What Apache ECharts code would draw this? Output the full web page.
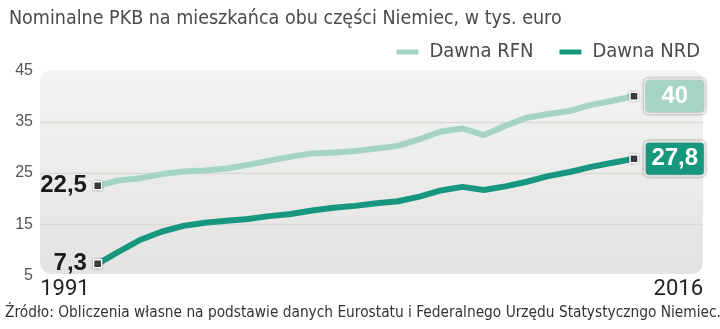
<!DOCTYPE html>
<html>
<head>
<meta charset="utf-8">
<script src="https://cdn.jsdelivr.net/npm/echarts@6/dist/echarts.min.js"></script>
<style>html,body{margin:0;padding:0;background:#fff}#c{width:720px;height:329px}</style>
</head>
<body>
<div id="c"></div>
<script>
const years = ['1991','1992','1993','1994','1995','1996','1997','1998','1999','2000','2001','2002','2003','2004','2005','2006','2007','2008','2009','2010','2011','2012','2013','2014','2015','2016'];
const rfn = [22.5,23.6,24.0,24.8,25.3,25.5,25.9,26.6,27.4,28.2,28.8,29.0,29.3,29.8,30.3,31.6,33.1,33.7,32.4,34.2,35.8,36.5,37.1,38.3,39.1,40.0];
const nrd = [7.3,9.7,12.0,13.6,14.7,15.3,15.7,16.05,16.6,17.0,17.7,18.25,18.6,19.1,19.5,20.4,21.6,22.3,21.7,22.4,23.3,24.4,25.2,26.2,27.0,27.8];
const yTicks = [5,15,25,35,45];
const xTickLabels = ['1991','2016'];
const seriesNames = ['Dawna RFN','Dawna NRD'];
const titleText = 'Nominalne PKB na mieszkańca obu części Niemiec, w tys. euro';
const sourceText = 'Źródło: Obliczenia własne na podstawie danych Eurostatu i Federalnego Urzędu Statystyczngo Niemiec.';

const C_RFN = '#a5d4c4', C_NRD = '#18977f';
const NARROW = "'Liberation Sans Narrow','DejaVu Sans Condensed',sans-serif";
const BOLD = "'Liberation Sans',Arial,sans-serif";
const fmt = v => String(v).replace('.', ',');

function build(vals, color) {
  const last = vals.length - 1;
  return vals.map((v, i) => {
    if (i === 0) return {value: v, label: {show: true, position: 'left', distance: 6, formatter: p => fmt(p.value),
      fontFamily: BOLD, fontWeight: 'bold', fontSize: 24, color: '#1a1a1a'}};
    if (i === last) return {value: v, label: {show: true, position: 'right', distance: 7,
      formatter: p => '{t|' + fmt(p.value) + '}',
      rich: {t: {width: 54, align: 'center', fontFamily: BOLD, fontWeight: 'bold', fontSize: 24, color: '#fff', lineHeight: 26}},
      backgroundColor: color, padding: [3, 2], borderColor: '#fff', borderWidth: 2, borderRadius: 3,
      shadowBlur: 3, shadowColor: 'rgba(0,0,0,0.45)'}};
    return v;
  });
}

const chart = echarts.init(document.getElementById('c'), null, {renderer: 'canvas'});
const TOP = 70.5, BOTTOM = 53.4;
const opt = {
  animation: false,
  title: [
    {text: titleText, left: 4, top: 4, textStyle: {fontFamily: NARROW, fontSize: 19.5, fontWeight: 'normal', color: '#4a4a4a'}},
    {text: sourceText, left: 0, bottom: 3, textStyle: {fontFamily: NARROW, fontSize: 15.3, fontWeight: 'normal', color: '#333'}}
  ],
  legend: {
    data: [{name: seriesNames[0], itemStyle: {color: C_RFN}}, {name: seriesNames[1], itemStyle: {color: C_NRD}}],
    right: 15, top: 37, icon: 'roundRect', itemWidth: 24, itemHeight: 7, itemGap: 24,
    textStyle: {fontFamily: NARROW, fontSize: 20, color: '#4a4a4a', padding: [0, 0, 0, 5]}
  },
  grid: [
    {left: 40, right: 17, top: TOP, bottom: BOTTOM, containLabel: false, outerBoundsMode: 'none'},
    {left: 97.7, right: 86, top: TOP, bottom: BOTTOM, containLabel: false, outerBoundsMode: 'none'}
  ],
  xAxis: [
    {gridIndex: 0, type: 'value', min: 0, max: 1, show: false},
    {gridIndex: 1, type: 'category', data: years, boundaryGap: false, show: false}
  ],
  yAxis: [
    {gridIndex: 0, type: 'value', min: yTicks[0], max: yTicks[yTicks.length-1], interval: 10,
      axisLine: {show: false}, axisTick: {show: false},
      axisLabel: {margin: 7, fontFamily: "'Liberation Sans',sans-serif", fontSize: 16, color: '#555'},
      splitLine: {show: true, showMinLine: false, showMaxLine: false, lineStyle: {color: '#d9d9d7', width: 1.3}}},
    {gridIndex: 1, type: 'value', min: yTicks[0], max: yTicks[yTicks.length-1], interval: 10, show: false, splitLine: {show: false}}
  ],
  graphic: [
    {type: 'rect', z: -10, shape: {x: 40, y: 70, width: 663, height: 204, r: 12},
      style: {fill: new echarts.graphic.LinearGradient(0, 0, 0, 1, [{offset: 0, color: '#f4f4f2'}, {offset: 1, color: '#e3e3e1'}])}}
  ],
  series: [
    {name: seriesNames[0], type: 'line', xAxisIndex: 1, yAxisIndex: 1, data: build(rfn, C_RFN), color: C_RFN,
      lineStyle: {width: 6, color: C_RFN, cap: 'round', join: 'round'}, showAllSymbol: true, symbol: 'rect',
      symbolSize: (v, p) => (p.dataIndex === 0 || p.dataIndex === rfn.length - 1) ? 8 : 0,
      itemStyle: {color: '#3c3c3c', borderColor: '#fff', borderWidth: 1.5, shadowBlur: 2, shadowColor: 'rgba(0,0,0,0.4)'}, z: 3},
    {name: seriesNames[1], type: 'line', xAxisIndex: 1, yAxisIndex: 1, data: build(nrd, C_NRD), color: C_NRD,
      lineStyle: {width: 6, color: C_NRD, cap: 'round', join: 'round'}, showAllSymbol: true, symbol: 'rect',
      symbolSize: (v, p) => (p.dataIndex === 0 || p.dataIndex === nrd.length - 1) ? 8 : 0,
      itemStyle: {color: '#3c3c3c', borderColor: '#fff', borderWidth: 1.5, shadowBlur: 2, shadowColor: 'rgba(0,0,0,0.4)'}, z: 3}
  ]
};
chart.setOption(opt);
const x0 = chart.convertToPixel({xAxisIndex: 1}, xTickLabels[0]);
const x1 = chart.convertToPixel({xAxisIndex: 1}, xTickLabels[1]);
chart.setOption({graphic: [
  opt.graphic[0],
  {type: 'text', x: x0 - 8, y: 289, style: {text: xTickLabels[0], align: 'right', verticalAlign: 'middle', font: "22px Roboto, sans-serif", fill: '#222'}},
  {type: 'text', x: x1 + 69, y: 289, style: {text: xTickLabels[1], align: 'right', verticalAlign: 'middle', font: "22px Roboto, sans-serif", fill: '#222'}}
]});
</script>
</body>
</html>
